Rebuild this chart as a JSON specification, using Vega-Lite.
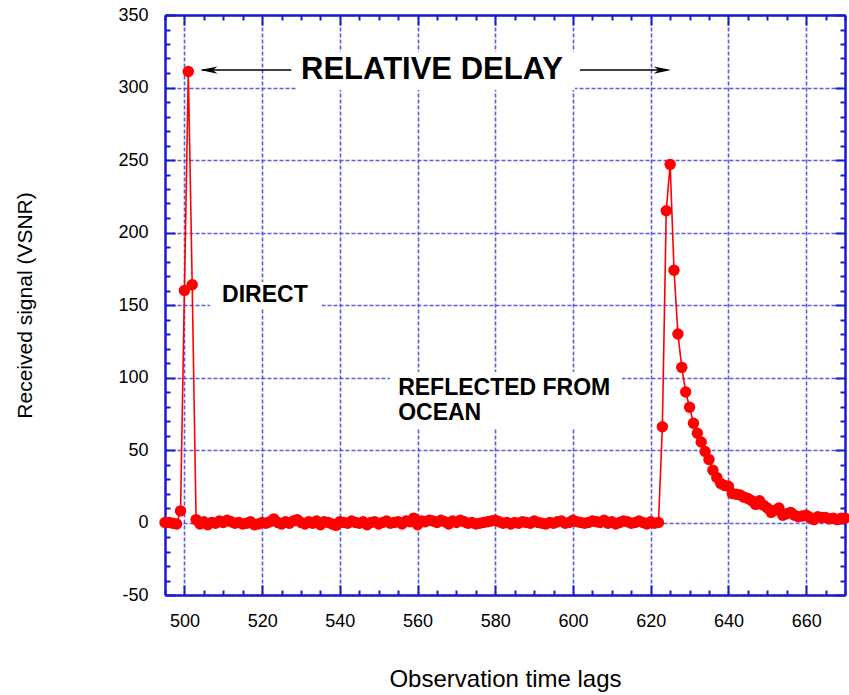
{
  "$schema": "https://vega.github.io/schema/vega-lite/v6.json",
  "width": 680,
  "height": 580,
  "autosize": {"type": "none"},
  "padding": {"left": 165, "top": 15, "right": 4, "bottom": 100},
  "background": "white",
  "view": {"stroke": null},
  "datasets": {
    "signal": [
      {"lag":495,"v":0},{"lag":496,"v":0},{"lag":497,"v":-0.5},{"lag":498,"v":-1},{"lag":499,"v":8},
      {"lag":500,"v":160},{"lag":501,"v":311},{"lag":502,"v":164},{"lag":503,"v":2},
      {"lag":504,"v":-1},{"lag":505,"v":0.5},{"lag":506,"v":-1.5},{"lag":507,"v":0},{"lag":508,"v":-0.5},
      {"lag":509,"v":1},{"lag":510,"v":0},{"lag":511,"v":1.5},{"lag":512,"v":0.5},{"lag":513,"v":-0.5},
      {"lag":514,"v":0},{"lag":515,"v":-1},{"lag":516,"v":-0.5},{"lag":517,"v":0.5},{"lag":518,"v":-1.5},
      {"lag":519,"v":-1},{"lag":520,"v":0},{"lag":521,"v":-0.5},{"lag":522,"v":0.5},{"lag":523,"v":2.5},
      {"lag":524,"v":0},{"lag":525,"v":-1},{"lag":526,"v":0.5},{"lag":527,"v":-0.5},{"lag":528,"v":1},
      {"lag":529,"v":2},{"lag":530,"v":0},{"lag":531,"v":-1},{"lag":532,"v":0.5},{"lag":533,"v":-0.5},
      {"lag":534,"v":1},{"lag":535,"v":-1.5},{"lag":536,"v":0.5},{"lag":537,"v":0},{"lag":538,"v":-1},
      {"lag":539,"v":-2},{"lag":540,"v":0.5},{"lag":541,"v":0},{"lag":542,"v":-0.5},{"lag":543,"v":1},
      {"lag":544,"v":0},{"lag":545,"v":-0.5},{"lag":546,"v":0.5},{"lag":547,"v":-1.5},{"lag":548,"v":0},
      {"lag":549,"v":0.5},{"lag":550,"v":-1},{"lag":551,"v":0},{"lag":552,"v":1},{"lag":553,"v":-0.5},
      {"lag":554,"v":0},{"lag":555,"v":0.5},{"lag":556,"v":-1},{"lag":557,"v":1},{"lag":558,"v":0.5},
      {"lag":559,"v":3},{"lag":560,"v":-1.5},{"lag":561,"v":1},{"lag":562,"v":0.5},{"lag":563,"v":1.5},
      {"lag":564,"v":1},{"lag":565,"v":0},{"lag":566,"v":1.5},{"lag":567,"v":0.5},{"lag":568,"v":-1},
      {"lag":569,"v":1},{"lag":570,"v":0},{"lag":571,"v":1.5},{"lag":572,"v":0.5},{"lag":573,"v":-0.5},
      {"lag":574,"v":0},{"lag":575,"v":-1},{"lag":576,"v":-0.5},{"lag":577,"v":0},{"lag":578,"v":0.5},
      {"lag":579,"v":1},{"lag":580,"v":1.5},{"lag":581,"v":0.5},{"lag":582,"v":-0.5},{"lag":583,"v":0},
      {"lag":584,"v":-1},{"lag":585,"v":0},{"lag":586,"v":-0.5},{"lag":587,"v":0.5},{"lag":588,"v":0},
      {"lag":589,"v":-0.5},{"lag":590,"v":1},{"lag":591,"v":0},{"lag":592,"v":-0.5},{"lag":593,"v":-1},
      {"lag":594,"v":0},{"lag":595,"v":-0.5},{"lag":596,"v":0.5},{"lag":597,"v":1},{"lag":598,"v":-0.5},
      {"lag":599,"v":0},{"lag":600,"v":1.5},{"lag":601,"v":0.5},{"lag":602,"v":0},{"lag":603,"v":-0.5},
      {"lag":604,"v":0},{"lag":605,"v":1},{"lag":606,"v":0.5},{"lag":607,"v":0},{"lag":608,"v":1.5},
      {"lag":609,"v":-0.5},{"lag":610,"v":0.5},{"lag":611,"v":-1},{"lag":612,"v":0},{"lag":613,"v":1},
      {"lag":614,"v":0.5},{"lag":615,"v":-0.5},{"lag":616,"v":0},{"lag":617,"v":1},{"lag":618,"v":0},
      {"lag":619,"v":-1},{"lag":620,"v":0.5},{"lag":621,"v":-0.5},{"lag":622,"v":0},
      {"lag":623,"v":66},{"lag":624,"v":215},{"lag":625,"v":247},{"lag":626,"v":174},{"lag":627,"v":130},
      {"lag":628,"v":107},{"lag":629,"v":90},{"lag":630,"v":79.5},{"lag":631,"v":68.5},{"lag":632,"v":61.5},
      {"lag":633,"v":55.5},{"lag":634,"v":49},{"lag":635,"v":43.5},{"lag":636,"v":36},{"lag":637,"v":31},
      {"lag":638,"v":27},{"lag":639,"v":25.5},{"lag":640,"v":25},{"lag":641,"v":20},{"lag":642,"v":19.5},
      {"lag":643,"v":19},{"lag":644,"v":17.5},{"lag":645,"v":16.5},{"lag":646,"v":15},{"lag":647,"v":12.5},
      {"lag":648,"v":15},{"lag":649,"v":12},{"lag":650,"v":10},{"lag":651,"v":7},{"lag":652,"v":8.5},
      {"lag":653,"v":10},{"lag":654,"v":5},{"lag":655,"v":6},{"lag":656,"v":7},{"lag":657,"v":5},
      {"lag":658,"v":4},{"lag":659,"v":4.5},{"lag":660,"v":5},{"lag":661,"v":3.5},{"lag":662,"v":2},
      {"lag":663,"v":4},{"lag":664,"v":3.5},{"lag":665,"v":3.5},{"lag":666,"v":2.5},{"lag":667,"v":3},
      {"lag":668,"v":2},{"lag":669,"v":3},{"lag":670,"v":3}
    ],
    "boxes": [
      {"x1":529,"x2":600.5,"y1":298.3,"y2":324.5},
      {"x1":506.6,"x2":535.4,"y1":147.9,"y2":165.9},
      {"x1":552.9,"x2":612.6,"y1":65.2,"y2":103.8}
    ],
    "arrows": [
      {"x1":504.5,"x2":527.5,"y":312},
      {"x1":601.8,"x2":624.3,"y":312}
    ],
    "headLeft": [{"x":506.3,"y":312}],
    "headRight": [{"x":623,"y":312}],
    "title": [{"x":563.7,"y":312,"label":"RELATIVE DELAY"}],
    "notes": [
      {"x":509.7,"y":156.9,"label":"DIRECT"},
      {"x":555.0,"y":92.8,"label":"REFLECTED FROM"},
      {"x":555.0,"y":75.5,"label":"OCEAN"}
    ]
  },
  "layer": [
    {
      "data": {"name": "signal"},
      "mark": {"type": "line", "color": "#ff0000", "strokeWidth": 1.6},
      "encoding": {
        "x": {"field": "lag", "type": "quantitative",
          "scale": {"domain": [495, 670], "nice": false, "zero": false},
          "axis": {
            "orient": "bottom",
            "values": [495,500,505,510,515,520,525,530,535,540,545,550,555,560,565,570,575,580,585,590,595,600,605,610,615,620,625,630,635,640,645,650,655,660,665,670],
            "labelExpr": "datum.value % 20 === 0 ? toString(datum.value) : ''",
            "labelOverlap": false, "labelFlush": false,
            "tickSize": {"condition": {"test": "datum.value % 20 === 0", "value": -10}, "value": -5},
            "tickColor": "#1a1acd", "tickWidth": 2,
            "domainColor": "#1a1acd", "domainWidth": 2.5,
            "grid": true, "gridColor": "#4a4ade", "gridDash": [4, 2], "gridWidth": 1.6,
            "gridOpacity": {"condition": {"test": "datum.value % 20 === 0", "value": 0.9}, "value": 0},
            "labelFont": "Liberation Sans", "labelFontSize": 18, "labelColor": "#000", "labelPadding": 27,
            "title": "Observation time lags", "titleFont": "Liberation Sans", "titleFontSize": 24,
            "titleFontWeight": "normal", "titleColor": "#000", "titlePadding": 32
          }
        },
        "y": {"field": "v", "type": "quantitative",
          "scale": {"domain": [-50, 350], "nice": false, "zero": false},
          "axis": {
            "orient": "left",
            "values": [-50,-40,-30,-20,-10,0,10,20,30,40,50,60,70,80,90,100,110,120,130,140,150,160,170,180,190,200,210,220,230,240,250,260,270,280,290,300,310,320,330,340,350],
            "labelExpr": "datum.value % 50 === 0 ? toString(datum.value) : ''",
            "labelOverlap": false, "labelFlush": false,
            "tickSize": {"condition": {"test": "datum.value % 50 === 0", "value": -10}, "value": -5},
            "tickColor": "#1a1acd", "tickWidth": 2,
            "domainColor": "#1a1acd", "domainWidth": 2.5,
            "grid": true, "gridColor": "#4a4ade", "gridDash": [4, 2], "gridWidth": 1.6,
            "gridOpacity": {"condition": {"test": "datum.value % 50 === 0", "value": 0.9}, "value": 0},
            "labelFont": "Liberation Sans", "labelFontSize": 18, "labelColor": "#000", "labelPadding": 27,
            "title": "Received signal (VSNR)", "titleFont": "Liberation Sans", "titleFontSize": 21,
            "titleFontWeight": "normal", "titleColor": "#000", "titlePadding": 82
          }
        }
      }
    },
    {
      "data": {"name": "boxes"},
      "mark": {"type": "rect", "fill": "white"},
      "encoding": {
        "x": {"field": "x1", "type": "quantitative", "axis": null},
        "x2": {"field": "x2"},
        "y": {"field": "y1", "type": "quantitative", "axis": null},
        "y2": {"field": "y2"}
      }
    },
    {
      "data": {"name": "signal"},
      "mark": {"type": "point", "filled": true, "color": "#ff0000", "size": 130, "opacity": 1},
      "encoding": {
        "x": {"field": "lag", "type": "quantitative",
          "axis": {
            "orient": "top",
            "values": [495,500,505,510,515,520,525,530,535,540,545,550,555,560,565,570,575,580,585,590,595,600,605,610,615,620,625,630,635,640,645,650,655,660,665,670],
            "labels": false, "title": null, "grid": false,
            "tickSize": {"condition": {"test": "datum.value % 20 === 0", "value": -10}, "value": -5},
            "tickColor": "#1a1acd", "tickWidth": 2,
            "domainColor": "#1a1acd", "domainWidth": 2.5
          }
        },
        "y": {"field": "v", "type": "quantitative",
          "axis": {
            "orient": "right",
            "values": [-50,-40,-30,-20,-10,0,10,20,30,40,50,60,70,80,90,100,110,120,130,140,150,160,170,180,190,200,210,220,230,240,250,260,270,280,290,300,310,320,330,340,350],
            "labels": false, "title": null, "grid": false,
            "tickSize": {"condition": {"test": "datum.value % 50 === 0", "value": -10}, "value": -5},
            "tickColor": "#1a1acd", "tickWidth": 2,
            "domainColor": "#1a1acd", "domainWidth": 2.5
          }
        }
      }
    },
    {
      "data": {"name": "arrows"},
      "mark": {"type": "rule", "color": "#000", "strokeWidth": 1.5},
      "encoding": {
        "x": {"field": "x1", "type": "quantitative", "axis": null},
        "x2": {"field": "x2"},
        "y": {"field": "y", "type": "quantitative", "axis": null}
      }
    },
    {
      "data": {"name": "headLeft"},
      "mark": {"type": "point", "filled": true, "color": "#000", "opacity": 1, "size": 300,
        "shape": "M-1,0 L1,-0.42 L0.45,0 L1,0.42 Z"},
      "encoding": {
        "x": {"field": "x", "type": "quantitative", "axis": null},
        "y": {"field": "y", "type": "quantitative", "axis": null}
      }
    },
    {
      "data": {"name": "headRight"},
      "mark": {"type": "point", "filled": true, "color": "#000", "opacity": 1, "size": 300,
        "shape": "M1,0 L-1,-0.42 L-0.45,0 L-1,0.42 Z"},
      "encoding": {
        "x": {"field": "x", "type": "quantitative", "axis": null},
        "y": {"field": "y", "type": "quantitative", "axis": null}
      }
    },
    {
      "data": {"name": "title"},
      "mark": {"type": "text", "font": "Liberation Sans", "fontWeight": "bold", "fontSize": 31,
        "align": "center", "baseline": "middle", "color": "#000"},
      "encoding": {
        "x": {"field": "x", "type": "quantitative", "axis": null},
        "y": {"field": "y", "type": "quantitative", "axis": null},
        "text": {"field": "label"}
      }
    },
    {
      "data": {"name": "notes"},
      "mark": {"type": "text", "font": "Liberation Sans", "fontWeight": "bold", "fontSize": 23,
        "align": "left", "baseline": "middle", "color": "#000"},
      "encoding": {
        "x": {"field": "x", "type": "quantitative", "axis": null},
        "y": {"field": "y", "type": "quantitative", "axis": null},
        "text": {"field": "label"}
      }
    }
  ],
  "resolve": {"axis": {"x": "independent", "y": "independent"}}
}
